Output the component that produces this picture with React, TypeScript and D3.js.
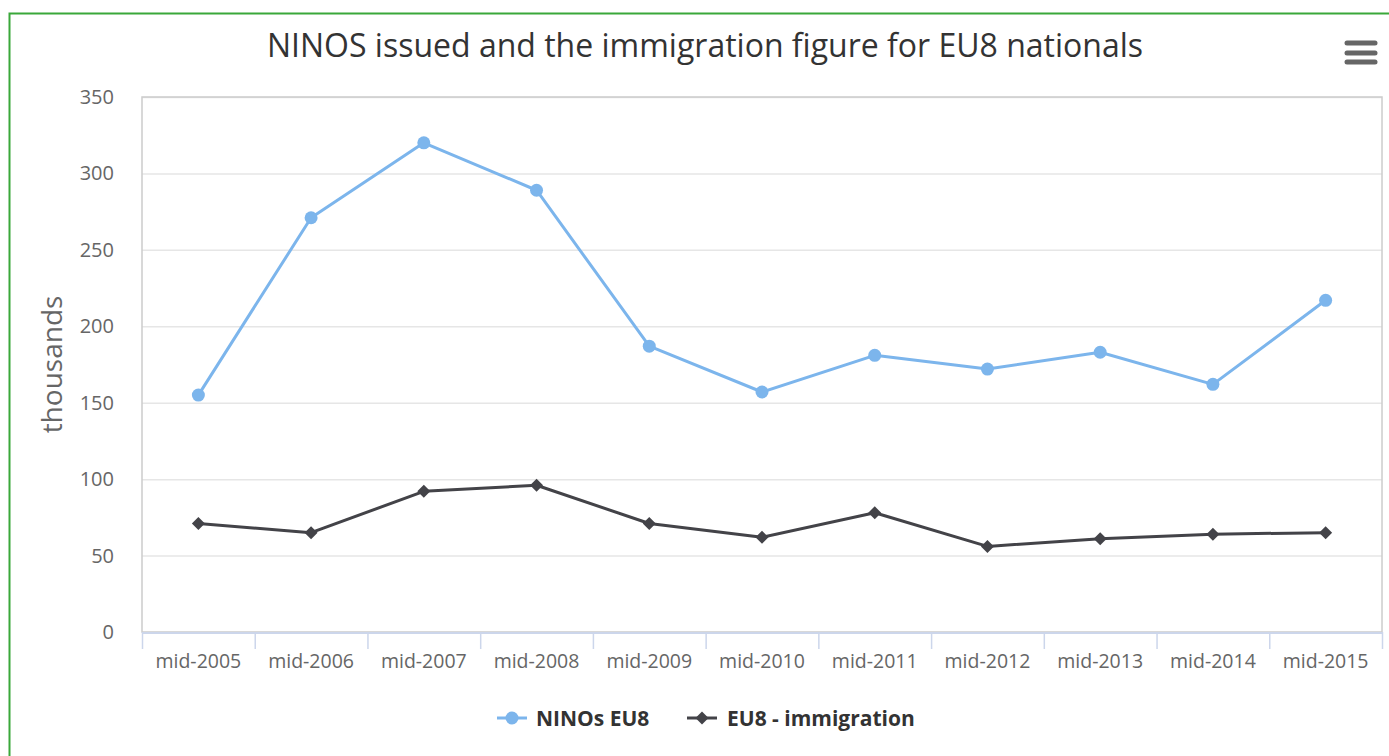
import React from "react";
import * as d3 from "d3";

const categories = ["mid-2005","mid-2006","mid-2007","mid-2008","mid-2009","mid-2010","mid-2011","mid-2012","mid-2013","mid-2014","mid-2015"];
const ninosEU8 = [155, 271, 320, 289, 187, 157, 181, 172, 183, 162, 217];
const eu8Immigration = [71, 65, 92, 96, 71, 62, 78, 56, 61, 64, 65];
const yTicks = [0, 50, 100, 150, 200, 250, 300, 350];
const titleText = "NINOS issued and the immigration figure for EU8 nationals";
const yTitle = "thousands";
const seriesNames = ["NINOs EU8", "EU8 - immigration"];

const W = 1389, H = 756;
const FONT = "'Open Sans', 'DejaVu Sans', sans-serif";

export default function App() {
  const left = 142, right = 1382, top = 97, bottom = 632;
  const x = d3.scaleBand<string>().domain(categories).range([left, right]);
  const y = d3.scaleLinear().domain([0, 350]).range([bottom, top]);
  const cx = (c: string) => (x(c) as number) + x.bandwidth() / 2;
  const line = d3.line<number>().x((_, i) => cx(categories[i])).y(d => y(d));
  const diamond = (px: number, py: number, r: number) =>
    `M${px},${py - r}L${px + r},${py}L${px},${py + r}L${px - r},${py}Z`;
  const blue = "#7cb5ec", dark = "#434348";
  const ticksX = [...categories.map(c => x(c) as number), right];
  const legendY = 718;

  return (
    <svg width={W} height={H} style={{ position: "absolute", left: 0, top: 0, fontFamily: FONT }}>
      <rect x={0} y={0} width={W} height={H} fill="#fff" />
      <rect x={9.5} y={13.5} width={W + 20} height={H + 20} fill="none" stroke="#3aa83a" strokeWidth={2} />
      <text x={705} y={57} textAnchor="middle" fontSize={32} fill="#333333">{titleText}</text>
      {/* menu icon */}
      {[43, 53, 62].map(yy => (
        <line key={yy} x1={1347} x2={1375} y1={yy} y2={yy} stroke="#666" strokeWidth={5} strokeLinecap="round" />
      ))}
      {/* grid */}
      {yTicks.map(t => (
        <line key={t} x1={left} x2={right} y1={y(t) + 0.5} y2={y(t) + 0.5} stroke="#e6e6e6" strokeWidth={1.5} />
      ))}
      <rect x={left} y={top} width={right - left} height={bottom - top} fill="none" stroke="#cccccc" strokeWidth={1.5} />
      {/* x axis */}
      <line x1={left} x2={right} y1={bottom + 1} y2={bottom + 1} stroke="#ccd6eb" strokeWidth={2} />
      {ticksX.map((t, i) => (
        <line key={i} x1={t + 0.5} x2={t + 0.5} y1={bottom} y2={bottom + 17} stroke="#ccd6eb" strokeWidth={1.5} />
      ))}
      {categories.map(c => (
        <text key={c} x={cx(c)} y={668} textAnchor="middle" fontSize={19.5} fill="#666666">{c}</text>
      ))}
      {yTicks.map(t => (
        <text key={t} x={114} y={y(t) + 7} textAnchor="end" fontSize={20} fill="#666666">{t}</text>
      ))}
      <text transform={`translate(62,${(top + bottom) / 2}) rotate(-90)`} textAnchor="middle" fontSize={28} fill="#666666">{yTitle}</text>
      {/* series */}
      <path d={line(ninosEU8) || ""} fill="none" stroke={blue} strokeWidth={3} strokeLinejoin="round" />
      {ninosEU8.map((v, i) => (
        <circle key={i} cx={cx(categories[i])} cy={y(v)} r={6.5} fill={blue} />
      ))}
      <path d={line(eu8Immigration) || ""} fill="none" stroke={dark} strokeWidth={3} strokeLinejoin="round" />
      {eu8Immigration.map((v, i) => (
        <path key={i} d={diamond(cx(categories[i]), y(v), 6.5)} fill={dark} />
      ))}
      {/* legend */}
      <line x1={497} x2={527} y1={legendY} y2={legendY} stroke={blue} strokeWidth={3} />
      <circle cx={512} cy={legendY} r={6.5} fill={blue} />
      <text x={536} y={legendY + 7.5} fontSize={21} fontWeight="bold" fill="#333333">{seriesNames[0]}</text>
      <line x1={687} x2={717} y1={legendY} y2={legendY} stroke={dark} strokeWidth={3} />
      <path d={diamond(702, legendY, 6.5)} fill={dark} />
      <text x={727} y={legendY + 7.5} fontSize={21} fontWeight="bold" fill="#333333">{seriesNames[1]}</text>
    </svg>
  );
}
